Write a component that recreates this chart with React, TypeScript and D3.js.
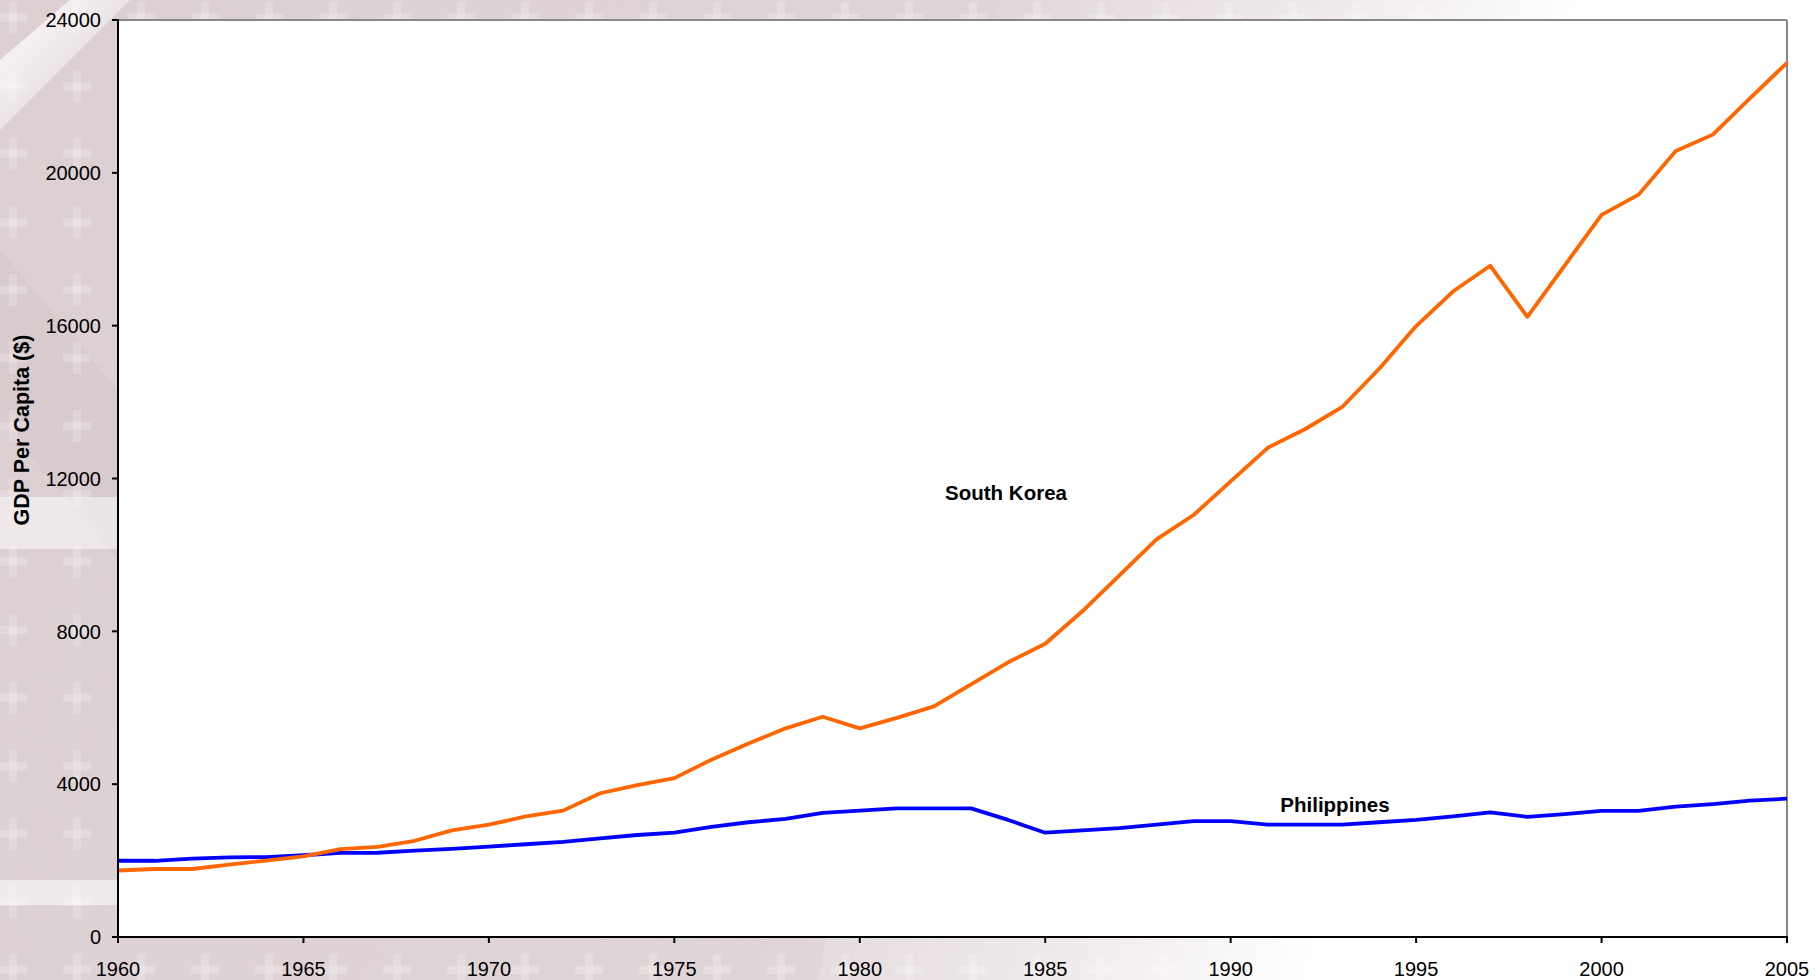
import React from "react";
import * as d3 from "d3";

const years: number[] = [
  1960, 1961, 1962, 1963, 1964, 1965, 1966, 1967, 1968, 1969,
  1970, 1971, 1972, 1973, 1974, 1975, 1976, 1977, 1978, 1979,
  1980, 1981, 1982, 1983, 1984, 1985, 1986, 1987, 1988, 1989,
  1990, 1991, 1992, 1993, 1994, 1995, 1996, 1997, 1998, 1999,
  2000, 2001, 2002, 2003, 2004, 2005,
];

const southKorea: number[] = [
  1740, 1780, 1780, 1895, 2000, 2110, 2300, 2360, 2518, 2790,
  2943, 3155, 3307, 3762, 3975, 4157, 4640, 5066, 5461, 5765,
  5461, 5734, 6037, 6614, 7190, 7676, 8525, 9466, 10407, 11044,
  11924, 12803, 13289, 13865, 14866, 15989, 16900, 17567, 16232, 17567,
  18900, 19430, 20570, 21000, 21950, 22880,
];

const philippines: number[] = [
  1995, 1995, 2050, 2085, 2090, 2140, 2200, 2205, 2260, 2306,
  2366, 2427, 2488, 2579, 2670, 2730, 2882, 3003, 3094, 3246,
  3307, 3368, 3368, 3368, 3064, 2730, 2791, 2852, 2943, 3034,
  3034, 2943, 2943, 2943, 3003, 3064, 3155, 3260, 3145, 3216,
  3300, 3300, 3410, 3480, 3570, 3620,
];

const yTicks: number[] = [0, 4000, 8000, 12000, 16000, 20000, 24000];
const xTicks: number[] = [1960, 1965, 1970, 1975, 1980, 1985, 1990, 1995, 2000, 2005];

const W = 1819;
const H = 980;
const left = 118;
const right = 1787;
const top = 20;
const bottom = 937;

export default function App() {
  const x = d3.scaleLinear().domain([1960, 2005]).range([left, right]);
  const y = d3.scaleLinear().domain([0, 24000]).range([bottom, top]);
  const line = d3
    .line<number>()
    .x((_, i) => x(years[i]))
    .y((d) => y(d));

  const font = "'Liberation Sans', Arial, sans-serif";

  return (
    <div style={{ position: "fixed", left: 0, top: 0 }}>
      <svg width={W} height={H} style={{ display: "block" }}>
        <defs>
          <linearGradient id="bgGrad" x1="0" y1="0" x2="1" y2="0.15">
            <stop offset="0" stopColor="#ddd1d4" />
            <stop offset="0.55" stopColor="#e2d8da" />
            <stop offset="0.75" stopColor="#f3eeef" />
            <stop offset="0.85" stopColor="#ffffff" />
          </linearGradient>
          <linearGradient id="streak" x1="0" y1="0" x2="1" y2="1">
            <stop offset="0" stopColor="#ffffff" stopOpacity="0.9" />
            <stop offset="1" stopColor="#ffffff" stopOpacity="0" />
          </linearGradient>
          <pattern id="crosses" x="-19" y="-6" width="64" height="68" patternUnits="userSpaceOnUse">
            <rect x="18" y="20" width="28" height="8" fill="#ffffff" opacity="0.2" />
            <rect x="28" y="8" width="8" height="32" fill="#ffffff" opacity="0.2" />
          </pattern>
        </defs>
        <rect x={0} y={0} width={W} height={H} fill="url(#bgGrad)" />
        <polygon points={`0,0 ${W * 0.55},0 ${W * 0.45},${H} 0,${H}`} fill="#d9cdd0" opacity={0.35} />
        <polygon points={`0,60 70,0 130,0 0,130`} fill="url(#streak)" />
        <polygon points={`0,250 0,420 118,560 118,390`} fill="#d4c6ca" opacity={0.5} />
        <rect x={0} y={0} width={W * 0.8} height={H} fill="url(#crosses)" />
        <rect x={0} y={497} width={118} height={52} fill="#ffffff" opacity={0.5} />
        <rect x={0} y={880} width={118} height={25} fill="#ffffff" opacity={0.55} />

        {/* plot area */}
        <rect x={left} y={top} width={right - left} height={bottom - top} fill="#ffffff" />
        <line x1={left} y1={top} x2={right} y2={top} stroke="#888888" strokeWidth={2} />
        <line x1={right} y1={top} x2={right} y2={bottom} stroke="#888888" strokeWidth={2} />

        <path d={line(philippines) || ""} fill="none" stroke="#0000ff" strokeWidth={3.8} strokeLinejoin="round" />
        <path d={line(southKorea) || ""} fill="none" stroke="#ff6600" strokeWidth={3.8} strokeLinejoin="round" />

        <line x1={left} y1={top - 1} x2={left} y2={bottom + 1} stroke="#000000" strokeWidth={2} />
        <line x1={left - 1} y1={bottom} x2={right + 1} y2={bottom} stroke="#000000" strokeWidth={2} />

        {yTicks.map((t) => (
          <g key={`y${t}`}>
            <line x1={left - 6} x2={left} y1={y(t)} y2={y(t)} stroke="#000" strokeWidth={2} />
            <text x={left - 17} y={y(t)} dy="0.36em" textAnchor="end" fontFamily={font} fontSize={20} fill="#000">
              {t}
            </text>
          </g>
        ))}
        {xTicks.map((t) => (
          <g key={`x${t}`}>
            <line x1={x(t)} x2={x(t)} y1={bottom} y2={bottom + 6} stroke="#000" strokeWidth={2} />
            <text x={x(t)} y={969} dy="0.36em" textAnchor="middle" fontFamily={font} fontSize={20} fill="#000">
              {t}
            </text>
          </g>
        ))}

        <text
          transform={`translate(29,430) rotate(-90)`}
          textAnchor="middle"
          fontFamily={font}
          fontWeight="bold"
          fontSize={21.5}
          fill="#000"
        >
          GDP Per Capita ($)
        </text>

        <text x={1006} y={493} dy="0.36em" textAnchor="middle" fontFamily={font} fontWeight="bold" fontSize={20.5} fill="#000">
          South Korea
        </text>
        <text x={1335} y={805} dy="0.36em" textAnchor="middle" fontFamily={font} fontWeight="bold" fontSize={20.5} fill="#000">
          Philippines
        </text>
      </svg>
    </div>
  );
}
